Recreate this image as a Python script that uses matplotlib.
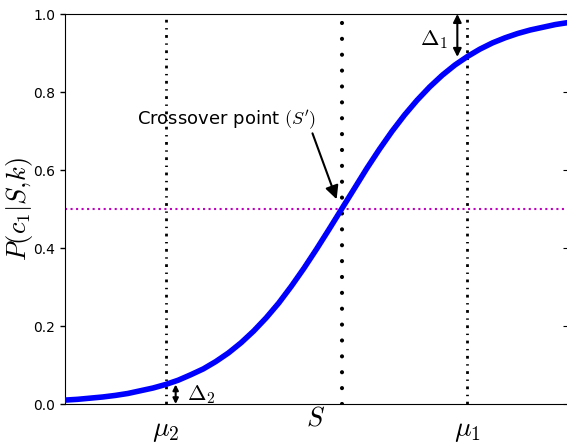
import matplotlib
matplotlib.use('Agg')
import matplotlib.pyplot as plt

plt.rcParams['mathtext.fontset'] = 'cm'
plt.rcParams['font.family'] = 'DejaVu Sans'

# curve values (x in arbitrary units, 0..10)
x_vals = [0.0, 0.25, 0.5, 0.75, 1.0, 1.25, 1.5, 1.75, 2.0, 2.25, 2.5, 2.75,
          3.0, 3.25, 3.5, 3.75, 4.0, 4.25, 4.5, 4.75, 5.0, 5.25, 5.5, 5.75,
          6.0, 6.25, 6.5, 6.75, 7.0, 7.25, 7.5, 7.75, 8.0, 8.25, 8.5, 8.75,
          9.0, 9.25, 9.5, 9.75, 10.0]
p_vals = [0.010, 0.012, 0.015, 0.018, 0.022, 0.027, 0.034, 0.041, 0.050,
          0.061, 0.075, 0.090, 0.109, 0.131, 0.157, 0.187, 0.221, 0.259,
          0.302, 0.348, 0.397, 0.448, 0.500, 0.552, 0.604, 0.653, 0.699,
          0.741, 0.779, 0.813, 0.843, 0.869, 0.891, 0.910, 0.926, 0.939,
          0.950, 0.959, 0.966, 0.973, 0.978]

mu2 = 2.0
S_pos = 5.5
mu1 = 8.0
p_mu1 = 0.89
p_mu2 = 0.05
y_ticks = [0.0, 0.2, 0.4, 0.6, 0.8, 1.0]

fig = plt.figure(figsize=(5.67, 4.44), dpi=100)
ax = fig.add_axes([65 / 567, 40 / 444, 503 / 567, 390 / 444])

ax.plot(x_vals, p_vals, color='b', lw=4, zorder=3)
# dash-dot lines at the two means
ax.axvline(mu2, color='k', lw=2, linestyle=(0, (1.0, 2.0, 0.5, 2.0)))
ax.axvline(mu1, color='k', lw=2, linestyle=(0, (1.0, 2.0, 0.5, 2.0)))
ax.axvline(S_pos, color='k', lw=3, linestyle=(0, (0.01, 3.8)),
           dash_capstyle='round')
ax.axhline(0.5, color='m', lw=1.5, linestyle=':')

# delta arrows
ax.annotate('', xy=(mu1 - 0.2, 1.0), xytext=(mu1 - 0.2, p_mu1),
            arrowprops=dict(arrowstyle='<|-|>', color='k', lw=1.5,
                            mutation_scale=12, shrinkA=0, shrinkB=0))
ax.text(mu1 - 0.38, 0.935, r'$\Delta_1$', fontsize=16, ha='right', va='center')
ax.annotate('', xy=(mu2 + 0.2, 0.0), xytext=(mu2 + 0.2, p_mu2),
            arrowprops=dict(arrowstyle='<|-|>', color='k', lw=1.5,
                            mutation_scale=8, shrinkA=0, shrinkB=0))
ax.text(mu2 + 0.43, 0.025, r'$\Delta_2$', fontsize=16, ha='left', va='center')

# crossover
ax.text(1.43, 0.728, r"Crossover point $(S')$", fontsize=13, ha='left', va='center')
ax.annotate('', xy=(5.4, 0.525), xytext=(4.92, 0.694),
            arrowprops=dict(arrowstyle='-|>', color='k', lw=1.5,
                            mutation_scale=20, shrinkA=0, shrinkB=0))

# x labels
ax.text(mu2, -0.066, r'$\mu_2$', fontsize=20, ha='center', va='center', clip_on=False)
ax.text(S_pos - 0.52, -0.036, r'$S$', fontsize=19, ha='center', va='center', clip_on=False)
ax.text(mu1, -0.066, r'$\mu_1$', fontsize=20, ha='center', va='center', clip_on=False)

ax.set_xlim(0, 10)
ax.set_ylim(0, 1)
ax.set_xticks([])
ax.set_yticks(y_ticks)
ax.set_yticklabels(['%.1f' % t for t in y_ticks], fontsize=10)
ax.tick_params(axis='y', direction='out', length=3.5, width=1)
ax.set_ylabel(r'$P(c_1|S{,}k)$', fontsize=19)
ax.yaxis.set_label_coords(-0.06, 0.5)

ax2 = ax.secondary_yaxis('right')
ax2.set_yticks(y_ticks)
ax2.tick_params(direction='in', length=3.5, labelright=False)

fig.savefig('out.png', dpi=100)
